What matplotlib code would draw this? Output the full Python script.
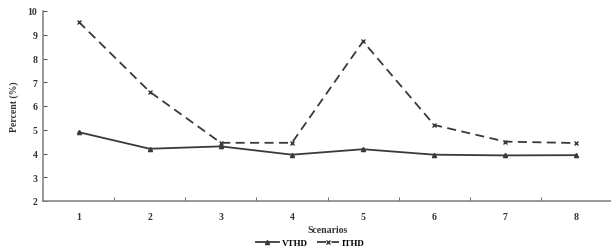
import matplotlib.pyplot as plt

plt.rcParams['font.family'] = ['Liberation Serif', 'DejaVu Serif']

scenarios = [1, 2, 3, 4, 5, 6, 7, 8]
vthd = [4.9, 4.2, 4.3, 3.95, 4.18, 3.95, 3.92, 3.93]
ithd = [9.55, 6.6, 4.45, 4.45, 8.72, 5.2, 4.5, 4.44]
yticks = [2, 3, 4, 5, 6, 7, 8, 9, 10]

fig = plt.figure(figsize=(6.11, 2.53), dpi=100)
ax = fig.add_axes([43/611, 51/253, 569/611, 190/253])

ax.plot(scenarios, vthd, color='#3a3a3a', lw=1.3, marker='^', ms=3, label='VTHD')
ax.plot(scenarios, ithd, color='#3a3a3a', lw=1.3, ls=(0, (5, 3)), marker='x', ms=3,
        label='ITHD')

ax.set_xlim(0.5, 8.5)
ax.set_ylim(2, 10)
ax.set_yticks(yticks)
ax.set_xticks(scenarios)
ax.set_xticks([1.5 + i for i in range(7)], minor=True)
ax.tick_params(axis='x', which='major', length=0, pad=8, labelsize=7)
ax.tick_params(axis='x', which='minor', length=3, direction='in', color='#555555')
ax.tick_params(axis='y', length=3, direction='in', labelsize=7, pad=4, color='#555555')
for lbl in ax.get_xticklabels() + ax.get_yticklabels():
    lbl.set_fontweight('bold')
    lbl.set_color('#333333')

for s in ['top', 'right']:
    ax.spines[s].set_visible(False)
for s in ['left', 'bottom']:
    ax.spines[s].set_color('#888888')
    ax.spines[s].set_linewidth(1.2)

ax.set_xlabel('Scenarios', fontsize=7, fontweight='bold', color='#333333', labelpad=3)
ax.set_ylabel('Percent (%)', fontsize=7, fontweight='bold', color='#333333', labelpad=6)

ax.legend(loc='upper center', bbox_to_anchor=(0.47, -0.2), ncol=2, frameon=False,
          handlelength=2.5, columnspacing=1, handletextpad=0.3,
          borderaxespad=0, borderpad=0,
          prop={'weight': 'bold', 'size': 6.5})

fig.savefig('out.png', dpi=100)
